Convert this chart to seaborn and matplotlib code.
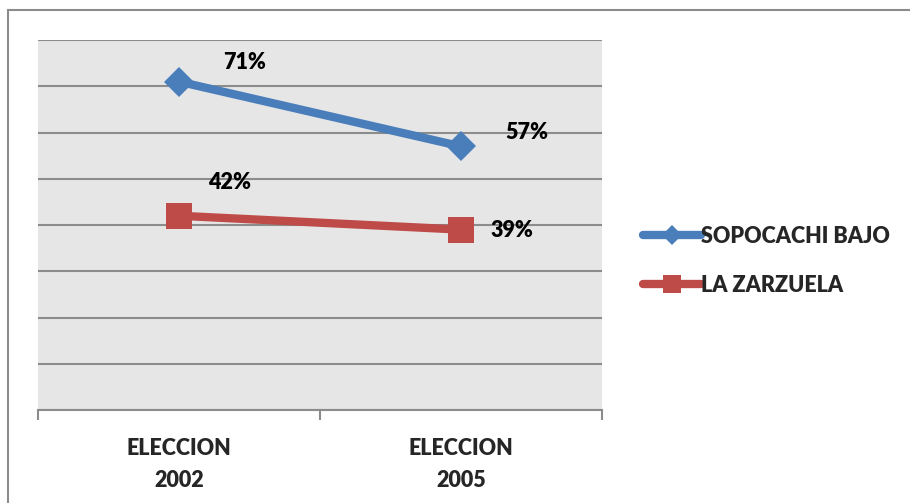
import matplotlib
matplotlib.use("Agg")
import matplotlib.pyplot as plt
from matplotlib.patches import Rectangle
import seaborn as sns
import pandas as pd

# data
categories = ["ELECCION\n2002", "ELECCION\n2005"]
series_names = ["SOPOCACHI BAJO", "LA ZARZUELA"]
sopocachi = [0.71, 0.57]
zarzuela = [0.42, 0.39]

df = pd.DataFrame({
    "eleccion": categories * 2,
    "zona": [series_names[0]] * 2 + [series_names[1]] * 2,
    "valor": sopocachi + zarzuela,
})

sns.set_style("white")
plt.rcParams["font.family"] = ["Lato", "DejaVu Sans"]
W = "heavy"
FS = 15.5

blue = "#4A7EBB"
red = "#BE4B48"

fig = plt.figure(figsize=(9.1, 5.03), dpi=100)
ax = fig.add_axes([38 / 910, 1 - 410 / 503, 564 / 910, 370 / 503])
ax.set_facecolor("#E6E6E6")

sns.lineplot(data=df, x="eleccion", y="valor", hue="zona", style="zona",
             palette={series_names[0]: blue, series_names[1]: red},
             markers={series_names[0]: "D", series_names[1]: "s"},
             dashes=False, linewidth=6, markersize=15, markeredgewidth=0,
             ax=ax, sort=False)
# the square marker is drawn a bit larger in the original
ax.lines[1].set_markersize(18.5)

ax.set_xlim(-0.5, 1.5)
ax.set_ylim(0, 0.8)
ax.set_yticks([i / 10 for i in range(9)])
ax.yaxis.grid(True, color="#8C8C8C", linewidth=1.5)
ax.set_axisbelow(True)
ax.tick_params(axis="y", left=False, labelleft=False)
ax.set_xlabel("")
ax.set_ylabel("")

ax.set_xticks([0, 1])
ax.set_xticklabels(categories, fontsize=FS, fontweight=W, linespacing=1.65)
ax.set_xticks([-0.5, 0.5, 1.5], minor=True)
ax.tick_params(axis="x", which="major", length=0, pad=20)
ax.tick_params(axis="x", which="minor", length=7, width=1.5, color="#8C8C8C",
               direction="out", bottom=True)
for side in ["top", "left", "right"]:
    ax.spines[side].set_visible(False)
ax.spines["bottom"].set_color("#8C8C8C")
ax.spines["bottom"].set_linewidth(1.5)

# data labels
offsets = {(0, 0): (66, 19), (0, 1): (66, 14), (1, 0): (51, 33), (1, 1): (51, -1)}
for si, vals in enumerate([sopocachi, zarzuela]):
    for ci, v in enumerate(vals):
        ax.annotate(f"{round(v * 100)}%", (ci, v), xytext=offsets[(si, ci)],
                    textcoords="offset pixels", ha="center", va="center",
                    fontsize=FS, fontweight=W, color="black")

leg = ax.legend(loc="center left", bbox_to_anchor=(634 / 910, 1 - 261 / 503),
                bbox_transform=fig.transFigure, frameon=False, fontsize=FS,
                handlelength=2.7, handletextpad=0.0, labelspacing=1.3,
                borderaxespad=0)
for t in leg.get_texts():
    t.set_fontweight(W)
for h, ms in zip(leg.get_lines(), [10, 13]):
    h.set_markersize(ms)

fig.patches.append(Rectangle((8 / 910, -0.1), 1.2, 1 - 10 / 503 + 0.1,
                             transform=fig.transFigure, fill=False,
                             edgecolor="#8C8C8C", linewidth=1.5))

fig.savefig("out.png", dpi=100)
